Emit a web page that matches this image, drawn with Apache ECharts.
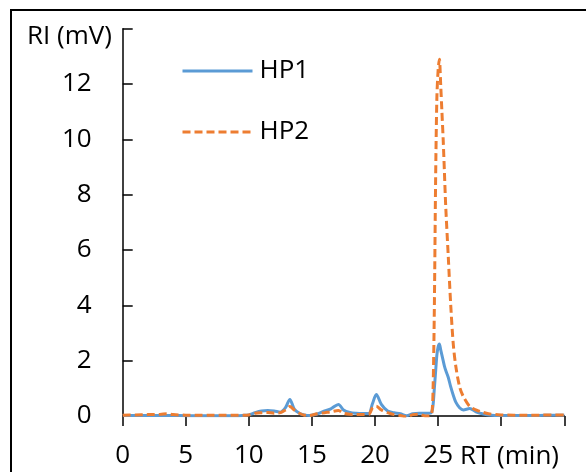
<!DOCTYPE html>
<html>
<head>
<meta charset="utf-8">
<style>
html,body{margin:0;padding:0;background:#fff;}
#chart{width:586px;height:472px;}
</style>
<script src="https://cdn.jsdelivr.net/npm/echarts@6/dist/echarts.min.js"></script>
</head>
<body>
<div id="chart"></div>
<script>
// Retention time (min)
const rt = [0, 1, 2, 3, 3.5, 4, 5, 6, 7, 8, 9, 9.5, 10, 10.5, 11, 11.5, 12, 12.5, 12.9, 13.25, 13.6, 14, 14.4, 14.8, 15.4, 16, 16.5, 17.1, 17.5, 18, 18.5, 19, 19.5, 19.8, 20.1, 20.5, 21, 21.5, 22, 22.5, 23, 23.5, 24, 24.3, 24.5, 24.6, 24.7, 24.8, 24.9, 25.0, 25.1, 25.2, 25.3, 25.4, 25.5, 25.6, 25.8, 26.0, 26.2, 26.4, 26.7, 27.0, 27.5, 28, 28.5, 29, 30, 31, 32, 33, 34, 35];
// RI signal (mV)
const hp1 = [0.02, 0.02, 0.02, 0.02, 0.02, 0.02, 0.01, 0.01, 0.01, 0.01, 0.01, 0.02, 0.04, 0.12, 0.18, 0.2, 0.18, 0.14, 0.3, 0.6, 0.25, 0.1, 0.04, 0.02, 0.07, 0.18, 0.26, 0.42, 0.22, 0.13, 0.1, 0.09, 0.09, 0.45, 0.78, 0.42, 0.18, 0.12, 0.08, 0.01, 0.08, 0.1, 0.1, 0.1, 0.15, 0.4, 1.0, 1.6, 2.2, 2.5, 2.6, 2.4, 2.2, 2.0, 1.8, 1.65, 1.4, 1.05, 0.75, 0.5, 0.3, 0.22, 0.27, 0.15, 0.08, 0.04, 0.02, 0.02, 0.02, 0.02, 0.03, 0.03];
const hp2 = [0.03, 0.04, 0.05, 0.06, 0.08, 0.05, 0.03, 0.03, 0.03, 0.03, 0.03, 0.03, 0.04, 0.1, 0.12, 0.13, 0.1, 0.12, 0.22, 0.34, 0.22, 0.1, 0.03, 0.02, 0.08, 0.12, 0.15, 0.2, 0.1, 0.06, 0.05, 0.05, 0.06, 0.3, 0.35, 0.22, 0.12, 0.05, 0.02, -0.04, 0.05, 0.06, 0.0, 0.0, 0.1, 1.0, 3.9, 8.5, 11.5, 12.5, 12.9, 12.0, 11.0, 10.0, 8.8, 7.6, 5.8, 4.0, 2.6, 1.8, 1.06, 0.7, 0.35, 0.22, 0.14, 0.08, 0.04, 0.03, 0.03, 0.03, 0.04, 0.04];
const seriesNames = ['HP1', 'HP2'];
const xAxisTitle = 'RT (min)';
const yAxisTitle = 'RI (mV)';

const FONT = '"Open Sans", "Liberation Sans", sans-serif';
const FS = 26;
const chart = echarts.init(document.getElementById('chart'), null, {renderer: 'canvas'});
const pairs = (ys) => rt.map((t, i) => [t, ys[i]]);

chart.setOption({
  animation: false,
  backgroundColor: '#fff',
  grid: {left: 122.7, right: 21.7, top: 28.7, bottom: 56, containLabel: false},
  legend: {
    orient: 'vertical', left: 181, top: 56, padding: 0,
    itemWidth: 70, itemHeight: 14, itemGap: 31,
    itemStyle: {opacity: 0},
    lineStyle: {width: 3},
    textStyle: {fontFamily: FONT, fontSize: FS, color: '#000', lineHeight: 30, padding: [0, 0, 0, 2]},
    data: seriesNames
  },
  xAxis: {
    type: 'value', min: 0, max: 35, interval: 5,
    axisLine: {show: true, onZero: false, lineStyle: {color: '#000', width: 1.5}},
    axisTick: {show: true, inside: false, length: 10, lineStyle: {color: '#000', width: 1.5}},
    axisLabel: {margin: 27, fontFamily: FONT, fontSize: FS, color: '#000',
      formatter: v => (v >= 30 ? '' : String(v))},
    splitLine: {show: false}
  },
  yAxis: {
    type: 'value', min: 0, max: 14, interval: 2,
    axisLine: {show: true, lineStyle: {color: '#000', width: 1.5}},
    axisTick: {show: true, inside: true, length: 10, lineStyle: {color: '#000', width: 1.5}},
    axisLabel: {margin: 31, fontFamily: FONT, fontSize: FS, color: '#000',
      formatter: v => (v >= 14 ? '' : String(v))},
    splitLine: {show: false}
  },
  series: [
    {name: seriesNames[0], type: 'line', data: pairs(hp1), symbol: 'none', smooth: 0.3,
     lineStyle: {color: '#5B9BD5', width: 3}, itemStyle: {color: '#5B9BD5'}, z: 3},
    {name: seriesNames[1], type: 'line', data: pairs(hp2), symbol: 'none', smooth: 0.3,
     lineStyle: {color: '#ED7D31', width: 3, type: [8, 4]}, itemStyle: {color: '#ED7D31'}, z: 4}
  ],
  graphic: [
    {type: 'rect', shape: {x: 11, y: 10, width: 620, height: 500},
     style: {fill: 'none', stroke: '#000', lineWidth: 2}, silent: true, z: 10},
    {type: 'text', x: 112, y: 37,
     style: {text: yAxisTitle, font: FS + 'px ' + FONT, fill: '#000', align: 'right', verticalAlign: 'middle'}},
    {type: 'text', x: 460, y: 457,
     style: {text: xAxisTitle, font: FS + 'px ' + FONT, fill: '#000', align: 'left', verticalAlign: 'middle'}}
  ]
});
</script>
</body>
</html>
